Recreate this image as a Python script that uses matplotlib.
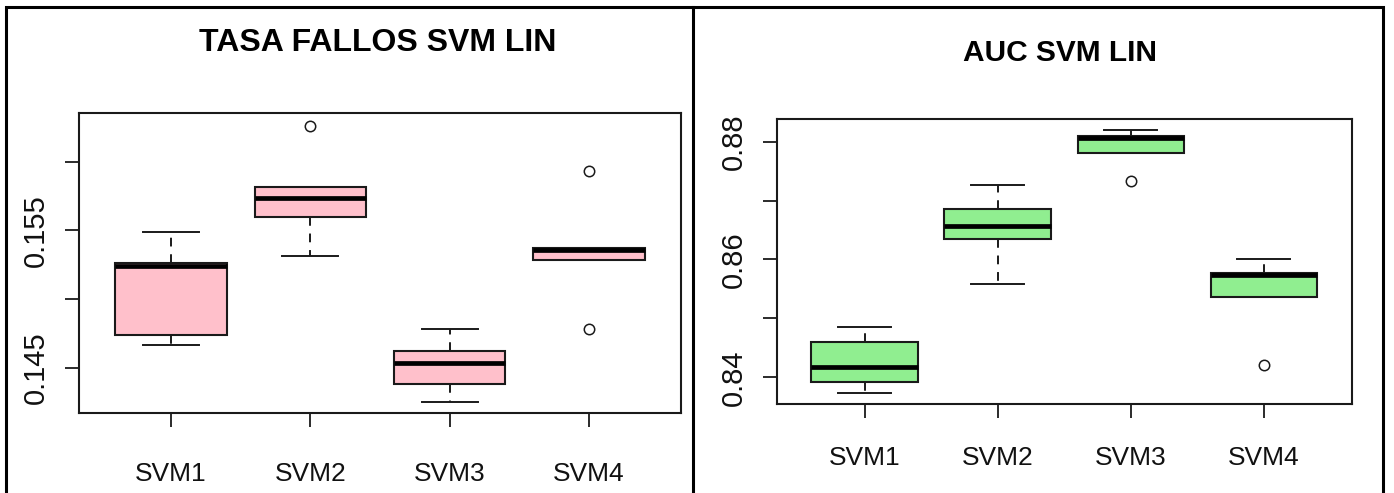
import matplotlib
matplotlib.use("Agg")
import matplotlib.pyplot as plt
from matplotlib.patches import Rectangle
from matplotlib.lines import Line2D

models = ["SVM1", "SVM2", "SVM3", "SVM4"]

# Error-rate summaries per model
err_whislo = [0.14667, 0.15316, 0.14248, 0.15284]
err_q1 = [0.14738, 0.15600, 0.14379, 0.15284]
err_med = [0.15242, 0.15732, 0.14536, 0.15355]
err_q3 = [0.15260, 0.15818, 0.14624, 0.15372]
err_whishi = [0.15486, 0.15818, 0.14782, 0.15372]
err_fliers = [[], [0.16262], [], [0.15934, 0.14782]]
err_ticks = [0.145, 0.150, 0.155, 0.160]
err_ticklabels = ["0.145", "", "0.155", ""]

# AUC summaries per model
auc_whislo = [0.83740, 0.85584, 0.87803, 0.85358]
auc_q1 = [0.83925, 0.86343, 0.87803, 0.85358]
auc_med = [0.84180, 0.86569, 0.88060, 0.85737]
auc_q3 = [0.84594, 0.86857, 0.88097, 0.85776]
auc_whishi = [0.84849, 0.87265, 0.88194, 0.86000]
auc_fliers = [[], [], [0.87328], [0.84209]]
auc_ticks = [0.84, 0.85, 0.86, 0.87, 0.88]
auc_ticklabels = ["0.84", "", "0.86", "", "0.88"]

FONT = ["Liberation Sans", "DejaVu Sans"]

W, H = 1394, 493
fig = plt.figure(figsize=(W / 100, H / 100), dpi=100)


def px_axes(x0, x1, ytop, ybot):
    return [x0 / W, (H - ybot) / H, (x1 - x0) / W, (ybot - ytop) / H]


def stats_list(lo, q1, med, q3, hi, fl):
    return [dict(whislo=a, q1=b, med=c, q3=d, whishi=e, fliers=f)
            for a, b, c, d, e, f in zip(lo, q1, med, q3, hi, fl)]


def draw_panel(rect, stats, color, ylim, ticks, ticklabels, xlab_pad):
    ax = fig.add_axes(rect)
    ax.bxp(stats, positions=[1, 2, 3, 4], widths=0.8, patch_artist=True,
           boxprops=dict(facecolor=color, edgecolor="#1a1a1a", linewidth=1.5),
           medianprops=dict(color="black", linewidth=3.4, solid_capstyle="butt"),
           whiskerprops=dict(color="#1a1a1a", linewidth=1.4, linestyle=(0, (4.5, 4))),
           capprops=dict(color="#1a1a1a", linewidth=1.4),
           flierprops=dict(marker="o", markerfacecolor="none",
                           markeredgecolor="#1a1a1a", markersize=7.5,
                           markeredgewidth=1.1))
    ax.set_xlim(0.34, 4.66)
    ax.set_ylim(*ylim)
    ax.set_xticks([1, 2, 3, 4])
    ax.set_xticklabels(models, fontfamily=FONT, fontsize=19, color="#111111")
    ax.set_yticks(ticks)
    ax.set_yticklabels(ticklabels, fontfamily=FONT, fontsize=21,
                       rotation=90, va="center", color="#111111")
    ax.tick_params(axis="both", length=10, width=1.3, color="#1a1a1a")
    ax.tick_params(axis="x", pad=xlab_pad)
    ax.tick_params(axis="y", pad=11)
    for s in ax.spines.values():
        s.set_linewidth(1.5)
        s.set_color("#1a1a1a")
    return ax


draw_panel(px_axes(79, 681, 113.3, 413.3),
           stats_list(err_whislo, err_q1, err_med, err_q3, err_whishi, err_fliers),
           "pink", (0.14168, 0.16352), err_ticks, err_ticklabels, 25)
draw_panel(px_axes(776.7, 1351.7, 119.3, 404.0),
           stats_list(auc_whislo, auc_q1, auc_med, auc_q3, auc_whishi, auc_fliers),
           "lightgreen", (0.83547, 0.8838), auc_ticks, auc_ticklabels, 20.5)

fig.text(378 / W, (H - 51) / H, "TASA FALLOS SVM LIN", ha="center", va="baseline",
         fontfamily=FONT, fontweight="bold", fontsize=23)
fig.text(1060 / W, (H - 61) / H, "AUC SVM LIN", ha="center", va="baseline",
         fontfamily=FONT, fontweight="bold", fontsize=21.5)

# outer frame and the divider between the two panels
fig.add_artist(Rectangle((6 / W, -0.05), (1383.3 - 6) / W, (H - 6.7) / H + 0.05,
                         transform=fig.transFigure, fill=False,
                         edgecolor="black", linewidth=2.2))
fig.add_artist(Line2D([693.3 / W, 693.3 / W], [0, (H - 6.7) / H],
                      transform=fig.transFigure, color="black", linewidth=2.2))

fig.savefig("out.png", dpi=100)
